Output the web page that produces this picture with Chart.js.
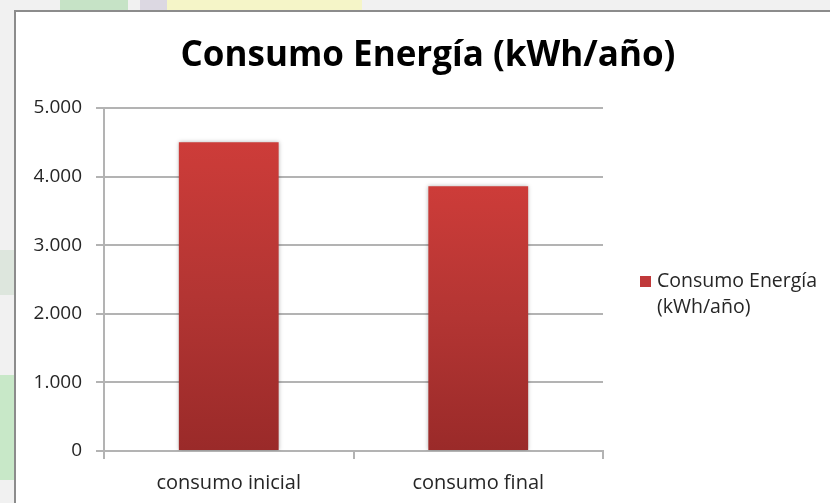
<!DOCTYPE html>
<html>
<head>
<meta charset="utf-8">
<script src="https://cdn.jsdelivr.net/npm/chart.js@4.4.0/dist/chart.umd.min.js"></script>
<style>
  html, body { margin: 0; padding: 0; width: 830px; height: 503px; overflow: hidden; background: #f1f1f1; }
  .bg { position: absolute; }
  #frame { position: absolute; left: 14px; top: 10px; width: 830px; height: 500px; background: #fff; border: 2px solid #8c8c8c; box-sizing: border-box; }
  #wrap { position: absolute; left: 0; top: 0; width: 830px; height: 503px; }
</style>
</head>
<body>
<div class="bg" style="left:60px;top:0;width:68px;height:10px;background:#c6e3c6;"></div>
<div class="bg" style="left:140px;top:0;width:27px;height:10px;background:#dcd8e2;"></div>
<div class="bg" style="left:167px;top:0;width:195px;height:10px;background:#f5f5c8;"></div>
<div class="bg" style="left:0;top:250px;width:14px;height:45px;background:#dde6dd;"></div>
<div class="bg" style="left:0;top:375px;width:14px;height:105px;background:#c8e8c8;"></div>
<div id="frame"></div>
<div id="wrap"><canvas id="c" width="830" height="503"></canvas></div>
<script>
const categories = ["consumo inicial", "consumo final"];
const seriesLabel = "Consumo Energía (kWh/año)";
const legendLines = ["Consumo Energía", "(kWh/año)"];
const values = [4500, 3860];
const yTicks = [0, 1000, 2000, 3000, 4000, 5000];
const yTickLabels = ["0", "1.000", "2.000", "3.000", "4.000", "5.000"];

const FONT = "'Open Sans', 'Liberation Sans', sans-serif";

function barGradient(ctx) {
  const chart = ctx.chart;
  const area = chart.chartArea;
  if (!area || ctx.type !== 'data') return '#C0393A';
  const yScale = chart.scales.y;
  const top = yScale.getPixelForValue(ctx.parsed.y);
  const g = chart.ctx.createLinearGradient(0, top, 0, area.bottom);
  g.addColorStop(0, '#CD3C39');
  g.addColorStop(0.5, '#B33533');
  g.addColorStop(1, '#9A2A29');
  return g;
}

const titleAndLegend = {
  id: 'titleAndLegend',
  afterDraw(chart) {
    const ctx = chart.ctx;
    ctx.save();
    // title
    ctx.fillStyle = '#000';
    ctx.font = "bold 35px " + FONT;
    ctx.textBaseline = 'middle';
    ctx.textAlign = 'center';
    ctx.fillText(chart.data.datasets[0].label, 428, 56);
    // legend
    ctx.fillStyle = '#C0393A';
    ctx.fillRect(640, 276, 11, 11);
    ctx.fillStyle = '#262626';
    ctx.font = "19.5px " + FONT;
    ctx.textAlign = 'left';
    ctx.fillText(legendLines[0], 657, 281);
    ctx.fillText(legendLines[1], 657, 307);
    ctx.restore();
  }
};

const shadowPlugin = {
  id: 'barShadow',
  beforeDatasetsDraw(chart) {
    const ctx = chart.ctx;
    ctx.save();
    ctx.shadowColor = 'rgba(0,0,0,0.28)';
    ctx.shadowBlur = 4;
    ctx.shadowOffsetX = 0;
    ctx.shadowOffsetY = 0;
  },
  afterDatasetsDraw(chart) {
    chart.ctx.restore();
  }
};

new Chart(document.getElementById('c'), {
  type: 'bar',
  data: {
    labels: categories,
    datasets: [{
      label: seriesLabel,
      data: values,
      backgroundColor: barGradient,
      borderWidth: 0,
      barPercentage: 0.4,
      categoryPercentage: 1.0
    }]
  },
  options: {
    responsive: false,
    animation: false,
    devicePixelRatio: 1,
    layout: { padding: { left: 26, right: 227, top: 108, bottom: 0 } },
    plugins: {
      legend: { display: false },
      tooltip: { enabled: false },
      title: { display: false }
    },
    scales: {
      y: {
        min: 0,
        max: 5000,
        afterBuildTicks(scale) { scale.ticks = yTicks.map(v => ({ value: v })); },
        afterFit(scale) { scale.width = 78; },
        ticks: {
          padding: 14,
          color: '#262626',
          font: { family: FONT, size: 19 },
          callback(value) { const i = yTicks.indexOf(value); return i >= 0 ? yTickLabels[i] : ''; }
        },
        grid: { color: '#B3B3B3', lineWidth: 2, tickLength: 8, drawTicks: true },
        border: { color: '#B3B3B3', width: 2 }
      },
      x: {
        afterFit(scale) { scale.height = 52; },
        ticks: {
          padding: 12,
          color: '#262626',
          font: { family: FONT, size: 20 }
        },
        grid: { offset: true, drawOnChartArea: false, color: '#B3B3B3', lineWidth: 2, tickLength: 8 },
        border: { color: '#B3B3B3', width: 2 }
      }
    }
  },
  plugins: [shadowPlugin, titleAndLegend]
});
</script>
</body>
</html>
